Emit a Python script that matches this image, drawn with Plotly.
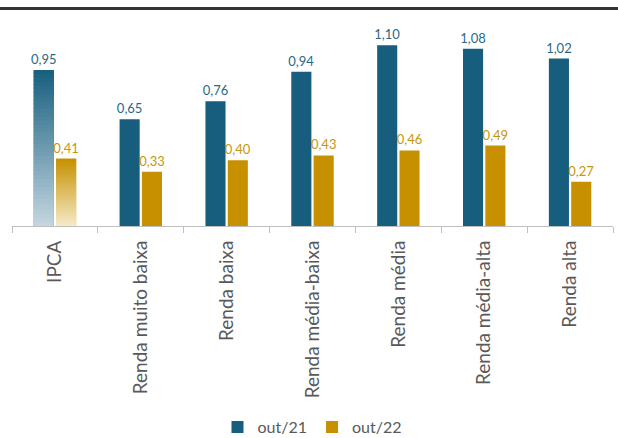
import plotly.graph_objects as go

categories = ["IPCA", "Renda muito baixa", "Renda baixa", "Renda média-baixa",
              "Renda média", "Renda média-alta", "Renda alta"]
out21 = [0.95, 0.65, 0.76, 0.94, 1.10, 1.08, 1.02]
out22 = [0.41, 0.33, 0.40, 0.43, 0.46, 0.49, 0.27]
series_names = ["out/21", "out/22"]

BLUE = "#175e7e"
GOLD = "#c69000"
BLUE_LIGHT = (196, 215, 225)
GOLD_LIGHT = (245, 235, 200)
BLUE_RGB = (23, 94, 126)
GOLD_RGB = (198, 144, 0)

def fmt(v):
    return f"{v:.2f}".replace(".", ",")

def lerp(c1, c2, t):
    return "rgb(%d,%d,%d)" % tuple(round(a + (b - a) * t) for a, b in zip(c1, c2))

fig = go.Figure()

fig.add_trace(go.Bar(
    x=categories, y=out21, name=series_names[0], offsetgroup="a",
    marker=dict(color=BLUE, line=dict(width=0)),
    text=[fmt(v) for v in out21], textposition="outside", constraintext="none",
    textfont=dict(color="#2a6889", size=13, family="Lato"), cliponaxis=False,
))
fig.add_trace(go.Bar(
    x=categories, y=out22, name=series_names[1], offsetgroup="b",
    marker=dict(color=GOLD, line=dict(width=0)),
    text=[fmt(v) for v in out22], textposition="outside", constraintext="none",
    textfont=dict(color="#c8960a", size=13, family="Lato"), cliponaxis=False,
))

# gradient overlay for the IPCA bars
N = 40
for val, group, top, bottom in [(out21[0], "a", BLUE_RGB, BLUE_LIGHT), (out22[0], "b", GOLD_RGB, GOLD_LIGHT)]:
    seg = val / N
    for k in range(N):
        t = 1 - (k + 0.5) / N
        c = lerp(top, bottom, t)
        h = seg * (1.0 if k == N - 1 else 1.6)
        fig.add_trace(go.Bar(
            x=[categories[0]], y=[h], base=[k * seg], offsetgroup=group,
            marker=dict(color=c, line=dict(width=0)),
            showlegend=False, hoverinfo="skip",
        ))

fig.update_layout(
    width=618, height=438,
    margin=dict(l=12, r=5, t=20, b=212, autoexpand=False),
    paper_bgcolor="white", plot_bgcolor="white",
    barmode="group", bargap=0.48, bargroupgap=0.1,
    font=dict(family="Lato", color="#595959"),
    showlegend=True,
    legend=dict(orientation="h", x=0.5, xanchor="center", y=-0.976, yanchor="middle",
                font=dict(size=16, color="#595959"), itemwidth=30,
                traceorder="normal"),
    xaxis=dict(type="category", showline=True, linecolor="#bfbfbf", linewidth=1,
               ticks="outside", tickson="boundaries", ticklen=6, tickcolor="#bfbfbf",
               tickangle=-90, tickfont=dict(size=19, color="#595959", family="Lato"),
               ticklabelstandoff=6,
               showgrid=False, range=[-0.5, 6.5], automargin=False),
    yaxis=dict(range=[0, 1.2545], visible=False, showgrid=False, zeroline=False,
               automargin=False),
    shapes=[dict(type="line", xref="paper", yref="paper",
                 x0=-12 / 601, x1=606 / 601, y0=(226 - 8.5) / 206, y1=(226 - 8.5) / 206,
                 line=dict(color="#333333", width=3))],
)

fig.write_html("out.html", config={"displayModeBar": False},
               post_script="document.body.style.margin='0';")
